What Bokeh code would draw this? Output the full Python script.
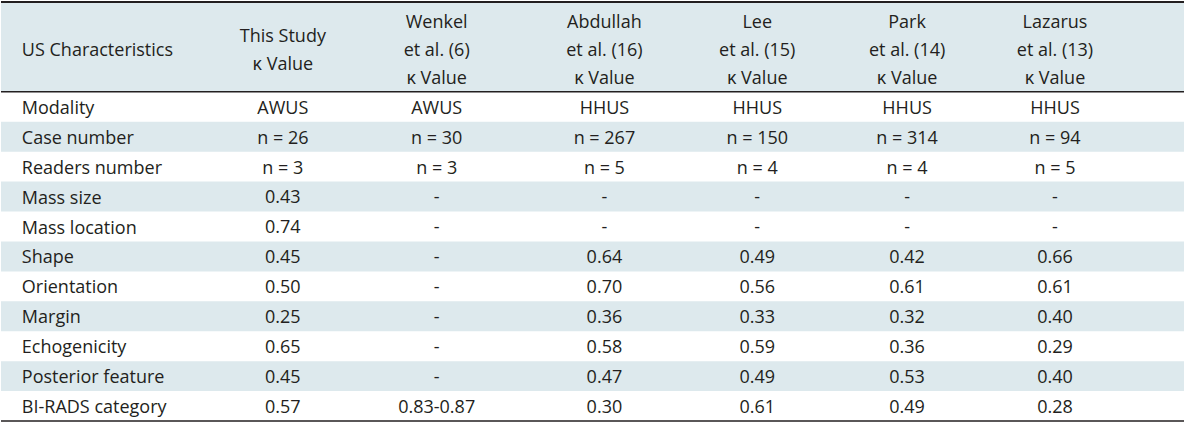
from bokeh.plotting import figure
from bokeh.models import Range1d
from bokeh.core.properties import value
from bokeh.embed import file_html
from bokeh.resources import INLINE

# ---- data ----
row_labels = ["Modality", "Case number", "Readers number", "Mass size", "Mass location",
              "Shape", "Orientation", "Margin", "Echogenicity", "Posterior feature",
              "BI-RADS category"]
header_first = "US Characteristics"
headers = [["This Study", "κ Value"],
           ["Wenkel", "et al. (6)", "κ Value"],
           ["Abdullah", "et al. (16)", "κ Value"],
           ["Lee", "et al. (15)", "κ Value"],
           ["Park", "et al. (14)", "κ Value"],
           ["Lazarus", "et al. (13)", "κ Value"]]
this_study = ["AWUS", "n = 26", "n = 3", "0.43", "0.74", "0.45", "0.50", "0.25", "0.65", "0.45", "0.57"]
wenkel = ["AWUS", "n = 30", "n = 3", "-", "-", "-", "-", "-", "-", "-", "0.83-0.87"]
abdullah = ["HHUS", "n = 267", "n = 5", "-", "-", "0.64", "0.70", "0.36", "0.58", "0.47", "0.30"]
lee = ["HHUS", "n = 150", "n = 4", "-", "-", "0.49", "0.56", "0.33", "0.59", "0.49", "0.61"]
park = ["HHUS", "n = 314", "n = 4", "-", "-", "0.42", "0.61", "0.32", "0.36", "0.53", "0.49"]
lazarus = ["HHUS", "n = 94", "n = 5", "-", "-", "0.66", "0.61", "0.40", "0.29", "0.40", "0.28"]
columns = [this_study, wenkel, abdullah, lee, park, lazarus]

# ---- layout / style ----
FONT = value("Open Sans")
FS = "18px"
TXT = "#231f20"
SHADE = "#dde9ed"
X0, X1 = 4, 1196
TOP, HEAD_BOT, BOT = 4, 96, 433
first_x = 25
col_x = [288, 443, 612, 766, 917, 1066]
row_h = (BOT - HEAD_BOT) / len(row_labels)

p = figure(width=1184, height=422, output_backend="svg", toolbar_location=None,
           x_range=Range1d(X0 - 0.5, X1 + 0.5), y_range=Range1d(BOT + 1.5, TOP - 1.5),
           min_border=0)
p.axis.visible = False
p.grid.visible = False
p.outline_line_color = None
p.background_fill_color = "white"

# header background
p.quad(left=[X0], right=[X1], top=[TOP], bottom=[HEAD_BOT], fill_color=SHADE, line_color=None)

# shaded rows
tops = [HEAD_BOT + i * row_h for i in range(len(row_labels))]
sh = [i for i in range(len(row_labels)) if i % 2 == 1]
p.quad(left=[X0] * len(sh), right=[X1] * len(sh),
       top=[tops[i] for i in sh], bottom=[tops[i] + row_h for i in sh],
       fill_color=SHADE, line_color=None)

# rules
p.segment(x0=[X0], x1=[X1], y0=[TOP], y1=[TOP], line_color=TXT, line_width=2)
p.segment(x0=[X0, X0], x1=[X1, X1], y0=[HEAD_BOT, BOT], y1=[HEAD_BOT, BOT], line_color=TXT, line_width=1.5)

# header texts
head_mid = (TOP + HEAD_BOT) / 2 + 2
hx, hy, ht = [], [], []
line_sp = 29
for cx, lines in zip(col_x, headers):
    n = len(lines)
    for k, t in enumerate(lines):
        hx.append(cx)
        hy.append(head_mid + (k - (n - 1) / 2) * line_sp)
        ht.append(t)
p.text(x=hx, y=hy, text=ht, text_align="center", text_baseline="middle",
       text_font=FONT, text_font_size=FS, text_color=TXT)
p.text(x=[first_x], y=[head_mid], text=[header_first], text_align="left", text_baseline="middle",
       text_font=FONT, text_font_size=FS, text_color=TXT)

# body texts
mids = [t + row_h / 2 for t in tops]
p.text(x=[first_x] * len(row_labels), y=mids, text=row_labels, text_align="left",
       text_baseline="middle", text_font=FONT, text_font_size=FS, text_color=TXT)
bx, by, bt = [], [], []
for cx, vals in zip(col_x, columns):
    for m, v in zip(mids, vals):
        bx.append(cx)
        by.append(m)
        bt.append(v)
p.text(x=bx, y=by, text=bt, text_align="center", text_baseline="middle",
       text_font=FONT, text_font_size=FS, text_color=TXT)

open("out.html", "w").write(file_html(p, INLINE))
